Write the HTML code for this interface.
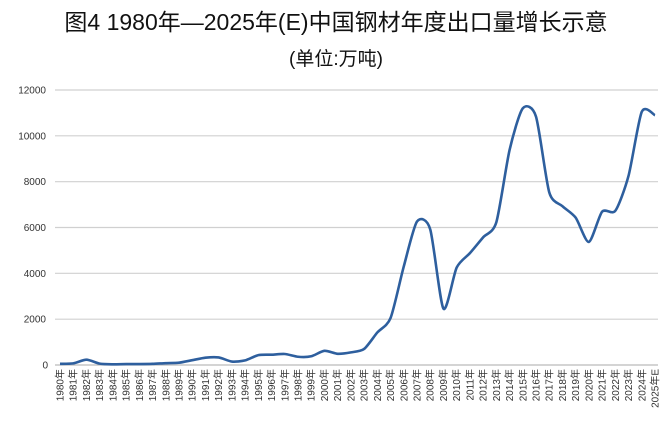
<!DOCTYPE html>
<html><head><meta charset="utf-8"><style>
body{margin:0;background:#fff;width:672px;height:434px;overflow:hidden}
svg text{font-family:"Liberation Sans","Noto Sans CJK SC",sans-serif}
</style></head><body>
<svg id="c" width="672" height="434">
<text x="336" y="30" text-anchor="middle" font-size="23" fill="#111">图4 1980年—2025年(E)中国钢材年度出口量增长示意</text>
<text x="336" y="65" text-anchor="middle" font-size="19" fill="#111" font-family="'Noto Serif CJK SC',serif">(单位:万吨)</text>
<g id="grid"></g><g id="xl"></g>
<path id="line" fill="none" stroke="#2e5f9e" stroke-width="2.6" stroke-linejoin="round"/>
</svg>
<script>
const years=[];for(let y=1980;y<=2025;y++)years.push(y===2025?"2025年E":y+"年");
const values=[50,70,230,60,30,40,40,50,80,100,210,320,330,150,200,430,450,480,360,380,620,490,550,700,1420,2050,4300,6260,5920,2460,4250,4880,5570,6230,9380,11200,10840,7540,6930,6430,5370,6690,6730,8260,11050,10900];
const yTicks=[0,2000,4000,6000,8000,10000,12000];
const ns="http://www.w3.org/2000/svg";
const x0=60,x1=655,yb=365,yt=90,vmax=12000;
const X=i=>x0+(x1-x0)*i/(years.length-1);
const Y=v=>yb-(yb-yt)*v/vmax;
const g=document.getElementById('grid');
yTicks.forEach(t=>{
 const l=document.createElementNS(ns,'line');
 
 
 l.setAttribute('x1',55);l.setAttribute('x2',658);l.setAttribute('y1',Y(t));l.setAttribute('y2',Y(t));
 l.setAttribute('stroke',t===0?'#bbb':'#d0d0d0');l.setAttribute('stroke-width',1.2);g.appendChild(l);
 const tx=document.createElementNS(ns,'text');
 
 
 tx.setAttribute('x',t===0?48:46);tx.setAttribute('y',Y(t)+3.5);tx.setAttribute('text-anchor','end');
 tx.setAttribute('font-size','10');tx.setAttribute('fill','#333');tx.textContent=t;g.appendChild(tx);
});
const xl=document.getElementById('xl');
years.forEach((yr,i)=>{
 const tx=document.createElementNS(ns,'text');
 
 
 const x=X(i)+3.5,y=369;
 tx.setAttribute('transform',`translate(${x},${y}) rotate(-90)`);
 tx.setAttribute('text-anchor','end');tx.setAttribute('font-size','10');tx.setAttribute('fill','#333');
 tx.textContent=yr;xl.appendChild(tx);
});
const p=values.map((v,i)=>[X(i),Y(v)]);
let d=`M${p[0][0]},${p[0][1]}`;
for(let i=0;i<p.length-1;i++){
 const a=p[Math.max(0,i-1)],b=p[i],c=p[i+1],e=p[Math.min(p.length-1,i+2)];
 const k=1/8;
 d+=` C${b[0]+(c[0]-a[0])*k},${b[1]+(c[1]-a[1])*k} ${c[0]-(e[0]-b[0])*k},${c[1]-(e[1]-b[1])*k} ${c[0]},${c[1]}`;
}
document.getElementById('line').setAttribute('d',d);
</script>
</body></html>
